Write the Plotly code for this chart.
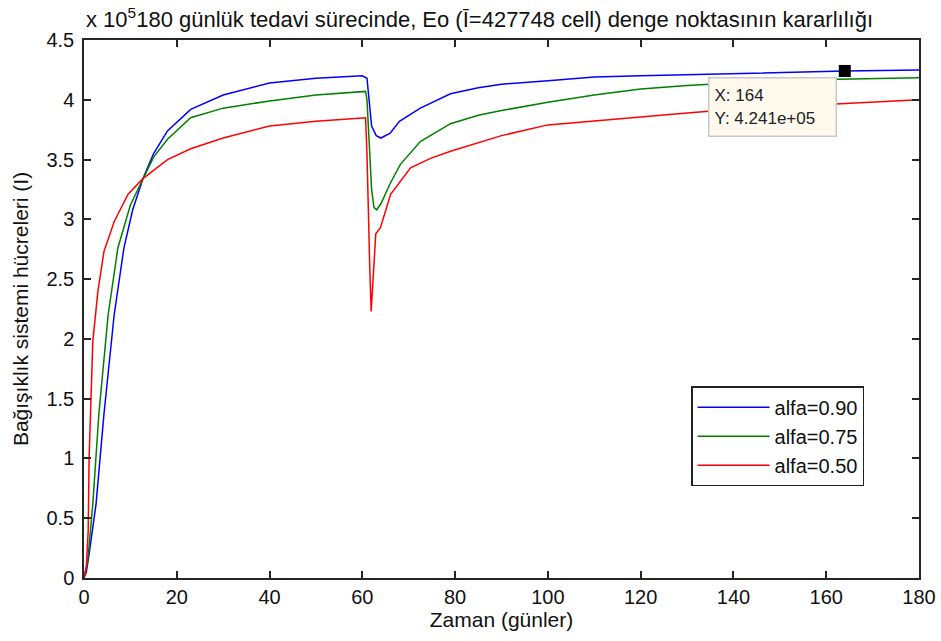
import plotly.graph_objects as go

# ---- data (values in units of 10^5 cells) ----
days_090 = [0, 0.5, 1.1, 2.6, 4.3, 6.5, 8.6, 10.5, 12.7, 15, 18, 23, 30, 40, 50, 60, 61,
            61.5, 62, 63, 64, 66, 68, 72.5, 79, 85, 90, 100, 110, 120, 140, 164, 180]
alfa_090 = [0, 0.05, 0.2, 0.62, 1.37, 2.2, 2.76, 3.08, 3.34, 3.55, 3.74, 3.92, 4.04, 4.14, 4.18, 4.20, 4.18,
            3.95, 3.78, 3.70, 3.68, 3.72, 3.82, 3.93, 4.05, 4.10, 4.13, 4.16, 4.19, 4.20, 4.22, 4.241, 4.25]

days_075 = [0, 0.5, 0.8, 1.9, 3.2, 5.2, 7.3, 10, 12.7, 15, 18, 23, 30, 40, 50, 60.7, 61,
            61.5, 62, 62.5, 63.1, 64, 66, 68.2, 72.5, 79, 85, 90, 100, 110, 120, 130, 140, 160, 180]
alfa_075 = [0, 0.08, 0.14, 0.62, 1.37, 2.2, 2.76, 3.12, 3.34, 3.52, 3.67, 3.85, 3.93, 3.99, 4.04, 4.07, 4.0,
            3.6, 3.25, 3.1, 3.08, 3.13, 3.30, 3.46, 3.65, 3.80, 3.87, 3.91, 3.98, 4.04, 4.09, 4.12, 4.14, 4.17, 4.185]

days_050 = [0, 0.5, 0.9, 1.1, 1.9, 3.0, 4.3, 6.5, 9.5, 12.7, 18, 23, 30, 40, 50, 60.7, 61.0,
            61.3, 61.6, 61.9, 62.3, 62.9, 63.9, 66.1, 70.4, 74.7, 79, 90, 100, 120, 130, 140, 160, 180]
alfa_050 = [0, 0.1, 0.39, 1.0, 1.98, 2.4, 2.73, 2.98, 3.21, 3.34, 3.50, 3.59, 3.68, 3.78, 3.82, 3.85, 3.55,
            3.0, 2.6, 2.23, 2.5, 2.88, 2.93, 3.21, 3.43, 3.51, 3.57, 3.70, 3.79, 3.86, 3.89, 3.92, 3.96, 4.0]

series_names = ["alfa=0.90", "alfa=0.75", "alfa=0.50"]
series_colors = ["#0000FF", "#008000", "#FF0000"]

datatip_x = [164]
datatip_y = [4.241]

x_ticks = [0, 20, 40, 60, 80, 100, 120, 140, 160, 180]
y_ticks = [0, 0.5, 1, 1.5, 2, 2.5, 3, 3.5, 4, 4.5]
y_ticktext = ["0", "0.5", "1", "1.5", "2", "2.5", "3", "3.5", "4", "4.5"]

FONT = "Liberation Sans, Arial, sans-serif"

fig = go.Figure()
for xs, ys, name, col in zip([days_090, days_075, days_050],
                             [alfa_090, alfa_075, alfa_050],
                             series_names, series_colors):
    fig.add_trace(go.Scatter(x=xs, y=ys, mode="lines", name=name,
                             line=dict(color=col, width=1.5)))

fig.add_trace(go.Scatter(x=datatip_x, y=datatip_y, mode="markers", showlegend=False,
                         marker=dict(symbol="square", size=12, color="black")))

fig.add_annotation(x=134.5, y=4.19, xref="x", yref="y", xanchor="left", yanchor="top",
                   text="X: %d<br>Y: %.3fe+05" % (datatip_x[0], datatip_y[0]),
                   showarrow=False, align="left", valign="middle", bgcolor="#FFF9EE",
                   width=116, height=47,
                   bordercolor="#C8C8C8", borderwidth=1.5, borderpad=5,
                   font=dict(family=FONT, size=17, color="#222222"))

fig.add_annotation(x=0, y=1.0, xref="paper", yref="paper", xanchor="left", yanchor="bottom",
                   yshift=6,
                   text="x 10<sup>5</sup>180 günlük tedavi sürecinde, Eo (Ī=427748 cell) denge noktasının kararlılığı",
                   showarrow=False, font=dict(family=FONT, size=22, color="#111111"))

fig.update_layout(
    width=941, height=641,
    margin=dict(l=84, r=22, t=40, b=63, autoexpand=False),
    paper_bgcolor="white", plot_bgcolor="white",
    font=dict(family=FONT, size=20, color="#111111"),
    showlegend=True,
    legend=dict(x=0.727, y=0.3565, xanchor="left", yanchor="top",
                bgcolor="white", bordercolor="#222222", borderwidth=1.5,
                font=dict(family=FONT, size=20), itemwidth=72),
)
fig.update_xaxes(range=[0, 180], tickvals=x_ticks, showgrid=False, zeroline=False,
                 showline=True, mirror="ticks", linecolor="#262626", linewidth=1.5,
                 ticks="inside", ticklen=7, tickcolor="#262626", tickwidth=1.5,
                 automargin=False, tickfont=dict(size=20), ticklabeloverflow="allow",
                 title=dict(text="Zaman (günler)", standoff=2, font=dict(size=21)))
fig.update_yaxes(range=[0, 4.5], tickvals=y_ticks, ticktext=y_ticktext, showgrid=False, zeroline=False,
                 showline=True, mirror="ticks", linecolor="#262626", linewidth=1.5,
                 ticks="inside", ticklen=7, tickcolor="#262626", tickwidth=1.5,
                 automargin=False, tickfont=dict(size=20), ticklabelstandoff=4,
                 title=dict(text="Bağışıklık sistemi hücreleri (I)", standoff=12, font=dict(size=21)))

# remove the default 8px page margin so the 941x641 figure fills the window exactly
fig.write_html("out.html", config={"displayModeBar": False},
               post_script="document.body.style.margin='0';document.body.style.overflow='hidden';")
